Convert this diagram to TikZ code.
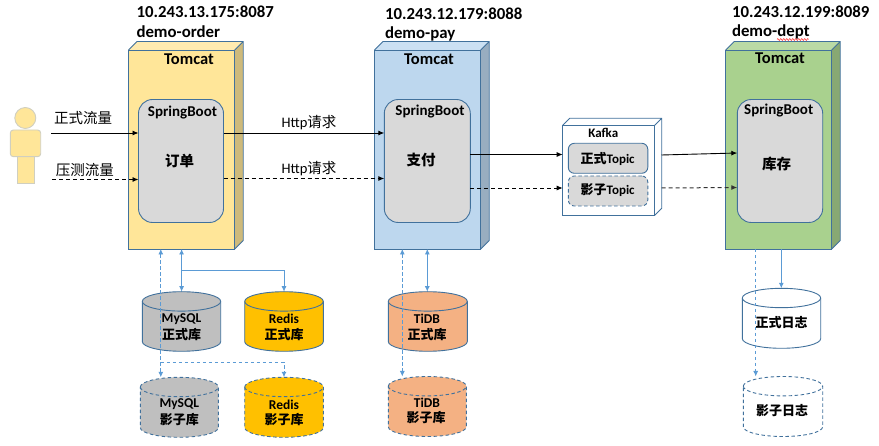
\documentclass[tikz,border=0pt]{standalone}
\usepackage{fontspec}
\setmainfont{Carlito}
\newfontfamily\cjk{Noto Sans CJK SC}
\usetikzlibrary{arrows.meta,decorations.pathmorphing,calc}
\definecolor{edgeblue}{HTML}{41719C}
\definecolor{linkblue}{HTML}{5B9BD5}
\definecolor{bootgray}{HTML}{D9D9D9}
\definecolor{persona}{HTML}{FFE699}
\definecolor{personedge}{HTML}{D0CFC0}
\definecolor{ordertop}{HTML}{FFEBB0}
\definecolor{orderside}{HTML}{CEBA7B}
\definecolor{payfront}{HTML}{BDD7EE}
\definecolor{paytop}{HTML}{CBE0F3}
\definecolor{payside}{HTML}{98ADC0}
\definecolor{deptfront}{HTML}{A9D18E}
\definecolor{depttop}{HTML}{BADAA5}
\definecolor{deptside}{HTML}{88A873}
\definecolor{dbgray}{HTML}{BFBFBF}
\definecolor{dbgold}{HTML}{FFC000}
\definecolor{dborange}{HTML}{F4B183}
\tikzset{
  every node/.style={inner sep=0pt,outer sep=0pt},
  headlabel/.style={anchor=west,font=\fontsize{16.8}{17}\selectfont\bfseries},
  tomcatlabel/.style={font=\fontsize{16.5}{17}\selectfont\bfseries},
  boot/.style={draw=edgeblue,fill=bootgray,line width=.9pt,rounded corners=14pt,anchor=north west},
  bootlabel/.style={font=\fontsize{15}{15}\selectfont\bfseries},
  biz/.style={font=\fontsize{14.5}{15}\selectfont\cjk\bfseries},
  flow/.style={font=\fontsize{14.5}{15}\selectfont\cjk},
  http/.style={font=\fontsize{14.5}{15}\selectfont},
  main/.style={black,line width=.9pt,-{Latex[length=6pt,width=5pt]}},
  shadowflow/.style={main,dash pattern=on 4pt off 3pt},
  link/.style={linkblue,line width=.9pt,{Latex[length=5.5pt,width=5pt]}-{Latex[length=5.5pt,width=5pt]}},
  linkend/.style={linkblue,line width=.9pt,-{Latex[length=5.5pt,width=5pt]}},
  linkplain/.style={linkblue,line width=.9pt},
  dlink/.style={link,dash pattern=on 3.5pt off 2.5pt},
  dlinkend/.style={linkend,dash pattern=on 3.5pt off 2.5pt},
  dlinkplain/.style={linkplain,dash pattern=on 3.5pt off 2.5pt},
  solidedge/.style={draw=edgeblue,line width=.9pt},
  dashedge/.style={draw=edgeblue,line width=.9pt,dash pattern=on 3.5pt off 2.5pt},
  cylname/.style={font=\fontsize{13.5}{14}\selectfont\bfseries},
  cylzh/.style={font=\fontsize{13}{14}\selectfont\cjk\bfseries},
  topic/.style={minimum width=79.5pt,minimum height=30pt,fill=bootgray,rounded corners=6pt,anchor=north west},
  topiclabel/.style={font=\fontsize{13}{14}\selectfont\bfseries},
}
\newcommand{\zh}[1]{{\cjk #1}}
% name, x1, y1, x2, y2, depth, front, top, side
\newcommand{\cube}[9]{%
  \fill[#8] (#2,#3) -- ++(#6,-#6) -- (#4+#6,#3-#6) -- (#4,#3) -- cycle;
  \fill[#9] (#4,#3) -- (#4+#6,#3-#6) -- (#4+#6,#5-#6) -- (#4,#5) -- cycle;
  \draw[solidedge] (#2,#3) -- ++(#6,-#6) -- (#4+#6,#3-#6) -- (#4+#6,#5-#6) -- (#4,#5) (#4,#3) -- (#4+#6,#3-#6);
  \node[solidedge,fill=#7,anchor=north west,minimum width=#4pt-#2pt,minimum height=#5pt-#3pt] (#1) at (#2,#3) {};
}
% name, x1, y1, x2, y2, fill, edge style
\newcommand{\cyl}[7]{%
  \path[fill=#6] (#2,#3+9.7) arc[start angle=180,end angle=360,x radius={(#4-#2)/2},y radius=9.7]
     -- (#4,#5-9.7) arc[start angle=0,end angle=180,x radius={(#4-#2)/2},y radius=9.7] -- cycle;
  \draw[#7] (#2,#3+9.7) arc[start angle=180,end angle=360,x radius={(#4-#2)/2},y radius=9.7]
     -- (#4,#5-9.7) arc[start angle=0,end angle=180,x radius={(#4-#2)/2},y radius=9.7] -- cycle;
  \draw[#7] (#2,#3+9.7) arc[start angle=180,end angle=0,x radius={(#4-#2)/2},y radius=9.7];
  \node[minimum width=#4pt-#2pt,minimum height=#5pt-#3pt,anchor=north west] (#1) at (#2,#3) {};
}
\begin{document}
\begin{tikzpicture}[x=1pt,y=-1pt]
\useasboundingbox (0,0) rectangle (879,446);

% person
\node[circle,draw=personedge,fill=persona,line width=.9pt,minimum size=21pt] (head) at (25.3,118) {};
\node[draw=personedge,fill=persona,line width=.9pt,minimum width=17.4pt,minimum height=27pt,anchor=north west] (leg) at (17.3,156.5) {};
\node[draw=personedge,fill=persona,line width=.9pt,rounded corners=3pt,minimum width=30.4pt,minimum height=26.7pt,anchor=north west] (torso) at (10.3,130) {};

% headers
\node[headlabel] (ip1) at (136.5,12) {10.243.13.175:8087};
\node[headlabel] (app1) at (136.5,32) {demo-order};
\node[headlabel] (ip2) at (385,13.5) {10.243.12.179:8088};
\node[headlabel] (app2) at (385,34) {demo-pay};
\node[headlabel] (ip3) at (732,12) {10.243.12.199:8089};
\node[headlabel] (app3) at (732,32) {demo-dept};
\draw[red!80!white,line width=.5pt,decorate,decoration={zigzag,segment length=3pt,amplitude=1pt}] (777,39.5) -- (808.5,39.5);

% tomcats
\cube{order}{128.5}{50}{234.7}{249}{8.5}{persona}{ordertop}{orderside}
\cube{pay}{374.5}{50}{480.7}{249}{8.5}{payfront}{paytop}{payside}
\cube{dept}{725.7}{50}{831.7}{249}{8.5}{deptfront}{depttop}{deptside}
\node[tomcatlabel] (t1) at (189,59) {Tomcat};
\node[tomcatlabel] (t2) at (429,59) {Tomcat};
\node[tomcatlabel] (t3) at (780,58) {Tomcat};

% spring boot boxes
\node[boot,minimum width=85pt,minimum height=123pt] (bootorder) at (138.5,99.5) {};
\node[boot,minimum width=86pt,minimum height=123pt] (bootpay) at (384.3,99.5) {};
\node[boot,minimum width=85.4pt,minimum height=123pt] (bootdept) at (737.3,99.5) {};
\node[bootlabel] (s1) at (182.5,113) {SpringBoot};
\node[bootlabel] (s2) at (430,112) {SpringBoot};
\node[bootlabel] (s3) at (778.7,111) {SpringBoot};
\node[biz] (b1) at (179.5,160.5) {订单};
\node[biz] (b2) at (421,160.5) {支付};
\node[biz] (b3) at (776.7,163.5) {库存};

% kafka
\cube{kafka}{562.7}{125.3}{654.7}{215.3}{7}{white}{white}{white}
\node[topiclabel] (klabel) at (603.3,132.5) {Kafka};
\node[topic,solidedge] (t4) at (568.3,143.3) {};
\node[topic,dashedge] (t5) at (568.3,176) {};
\node[topiclabel] (t4l) at (607.7,158.5) {\zh{正式}Topic};
\node[topiclabel] (t5l) at (607.7,190.5) {\zh{影子}Topic};

% cylinders
\cyl{mysql}{142.3}{291.7}{220.7}{351.3}{dbgray}{solidedge}
\cyl{redis}{244.7}{291.7}{323.3}{351.3}{dbgold}{solidedge}
\cyl{mysqls}{140.3}{377.3}{218.3}{437.3}{dbgray}{dashedge}
\cyl{rediss}{244.7}{377.3}{323.3}{437.3}{dbgold}{dashedge}
\cyl{tidb}{388.3}{291.7}{467.3}{351.3}{dborange}{solidedge}
\cyl{tidbs}{388.3}{376.5}{466.3}{436.5}{dborange}{dashedge}
\cyl{logm}{742.3}{288.3}{820.7}{348.3}{white}{solidedge}
\cyl{logs}{743.3}{376.5}{822.7}{436.5}{white}{dashedge}

\node[cylname] (l1) at (181.5,319) {MySQL};
\node[cylzh] (l2) at (181.5,335) {正式库};
\node[cylname] (l3) at (284,319) {Redis};
\node[cylzh] (l4) at (284,335) {正式库};
\node[cylname] (l5) at (179.3,404.5) {MySQL};
\node[cylzh] (l6) at (179.3,420) {影子库};
\node[cylname] (l7) at (284,405) {Redis};
\node[cylzh] (l8) at (284,420) {影子库};
\node[cylname] (l9) at (427,319) {TiDB};
\node[cylzh] (l10) at (427,335) {正式库};
\node[cylname] (l11) at (427,403) {TiDB};
\node[cylzh] (l12) at (426,418) {影子库};
\node[cylzh] (l13) at (781.5,323) {正式日志};
\node[cylzh] (l14) at (782,410.5) {影子日志};

% traffic
\coordinate (in1) at (51,133);
\coordinate (in2) at (52,179.5);
\draw[main] (in1) -- (in1 -| bootorder.west);
\draw[shadowflow] (in2) -- (in2 -| bootorder.west);
\node[flow] (f1) at (83,118) {正式流量};
\node[flow] (f2) at (85,169.5) {压测流量};

\coordinate (h1) at (223.5,133);
\coordinate (h2) at (223.5,178.5);
\draw[main] (h1) -- (h1 -| bootpay.west);
\draw[shadowflow] (h2) -- (h2 -| bootpay.west);
\node[http] (h1l) at (309,122.5) {Http\zh{请求}};
\node[http] (h2l) at (309,169) {Http\zh{请求}};

\coordinate (k1) at (470.3,154.5);
\coordinate (k2) at (470.3,188);
\draw[main] (k1) -- (k1 -| kafka.west);
\draw[shadowflow] (k2) -- (k2 -| kafka.west);

\coordinate (k3) at (661.5,155);
\coordinate (k3e) at (737.3,153);
\coordinate (k4) at (661.5,188);
\coordinate (k4e) at (737.3,187.5);
\draw[main] (k3) -- (k3e);
\draw[shadowflow,line width=1pt,black!80] (k4) -- (k4e);

% storage links
\coordinate (o1) at ([xshift=-20.8pt]order.south);
\draw[dlink] (o1) -- (o1 |- mysqls.north);
\draw[link] (order.south) -- (order.south |- mysql.north);
\coordinate (j1) at (181.5,270.3);
\draw[linkend] (j1) -| (redis.north);
\coordinate (j2) at (o1 |- 0,362.3);
\draw[dlinkend] (j2) -| (rediss.north);

\coordinate (p1) at (402.3,249);
\coordinate (p2) at (427.3,249);
\draw[dlink] (p1) -- (p1 |- tidbs.north);
\draw[link] (p2) -- (p2 |- tidb.north);

\coordinate (d1) at (755.7,249);
\coordinate (d2) at (781.3,249);
\draw[dlinkend] (d1) -- (d1 |- logs.north);
\draw[linkend] (d2) -- (d2 |- logm.north);
\end{tikzpicture}
\end{document}
